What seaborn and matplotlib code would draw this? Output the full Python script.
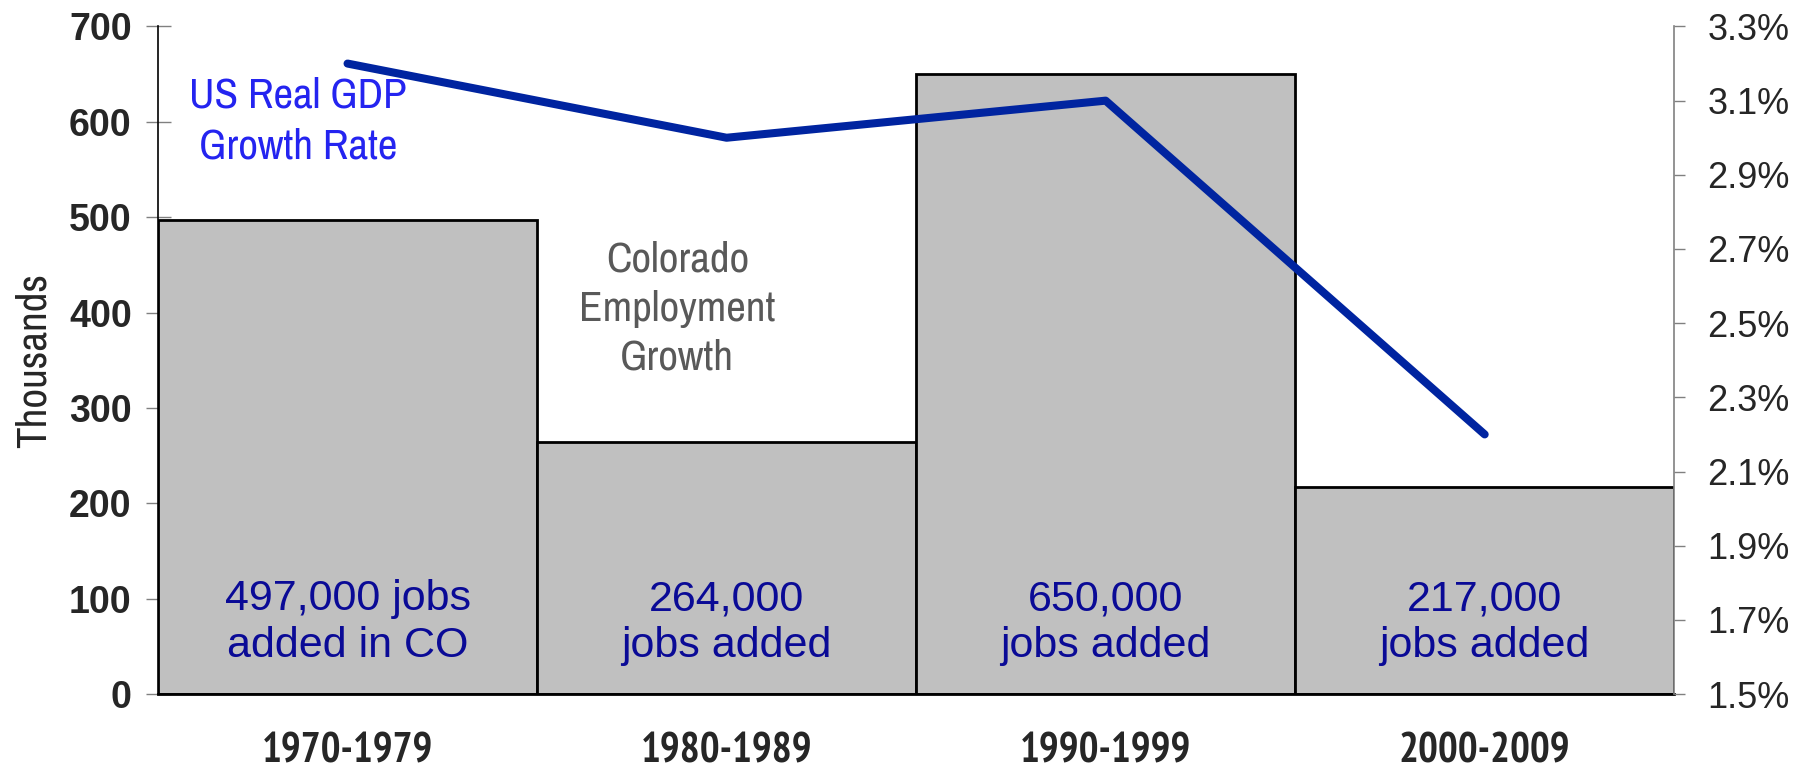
import matplotlib
matplotlib.use("Agg")
import matplotlib.pyplot as plt
import seaborn as sns
import pandas as pd
from matplotlib.ticker import FuncFormatter

periods = ["1970-1979", "1980-1989", "1990-1999", "2000-2009"]
jobs_thousands = [497, 264, 650, 217]
gdp_growth = [3.2, 3.0, 3.1, 2.2]
bar_labels = ["497,000 jobs\nadded in CO", "264,000\njobs added",
              "650,000\njobs added", "217,000\njobs added"]
left_ticks = [0, 100, 200, 300, 400, 500, 600, 700]
right_ticks = [1.5, 1.7, 1.9, 2.1, 2.3, 2.5, 2.7, 2.9, 3.1, 3.3]

sns.set_style("white")
plt.rcParams["font.family"] = ["Liberation Sans", "DejaVu Sans"]
NARROW = ["Archivo Narrow", "Liberation Sans", "DejaVu Sans"]
XFONT = ["PT Sans Narrow", "Roboto Condensed", "Liberation Sans", "DejaVu Sans"]

df = pd.DataFrame({"period": periods, "jobs": jobs_thousands, "gdp": gdp_growth})

fig = plt.figure(figsize=(18.08, 7.72), dpi=100)
ax = fig.add_axes([0.0874, 0.101, 0.926 - 0.0874, 0.9657 - 0.101])

sns.barplot(data=df, x="period", y="jobs", color="#C0C0C0", saturation=1,
            width=1.0, edgecolor="black", linewidth=2, ax=ax)
ax.set_xlim(-0.5, 3.5)
ax.set_ylim(0, 700)
ax.set_yticks(left_ticks)
ax.set_yticklabels([str(t) for t in left_ticks], fontsize=27, fontweight="bold")
ax.tick_params(axis="y", direction="inout", length=18, width=1, color="#808080", pad=10, left=True)
ax.tick_params(axis="x", length=0, pad=28)
for lab in ax.get_xticklabels():
    lab.set_fontfamily(XFONT)
    lab.set_fontsize(30)
    lab.set_fontweight("bold")
ax.set_xlabel("")
ax.set_ylabel("Thousands", fontsize=31, family=NARROW, labelpad=12)
for s in ["top", "right"]:
    ax.spines[s].set_visible(False)
ax.spines["left"].set_color("black")
ax.spines["left"].set_linewidth(1.2)
ax.spines["bottom"].set_color("black")
ax.spines["bottom"].set_linewidth(2)

for i, txt in enumerate(bar_labels):
    ax.text(i, 75, txt, ha="center", va="center", fontsize=31, color="#0A0A96",
            linespacing=1.22)

ax.text(-0.13, 601, "US Real GDP\nGrowth Rate", ha="center", va="center",
        fontsize=31, color="#2424F0", family=NARROW, linespacing=1.4)
ax.text(0.87, 404, "Colorado\nEmployment\nGrowth", ha="center", va="center",
        fontsize=31, color="#595959", family=NARROW, linespacing=1.35)

ax2 = ax.twinx()
ax2.set_position(ax.get_position())
sns.lineplot(data=df, x="period", y="gdp", color="#0024A0", linewidth=5.8,
             ax=ax2, sort=False)
ax2.set_ylim(1.5, 3.3)
ax2.set_yticks(right_ticks)
ax2.yaxis.set_major_formatter(FuncFormatter(lambda v, p: f"{v:.1f}%"))
ax2.tick_params(axis="y", direction="out", length=8, width=1, color="#808080",
                labelsize=26, pad=16, right=True)
ax2.set_ylabel("")
ax2.set_xlabel("")
for s in ["top", "left", "bottom"]:
    ax2.spines[s].set_visible(False)
ax2.spines["right"].set_color("#808080")
ax2.spines["right"].set_linewidth(1.2)
ax2.set_xlim(-0.5, 3.5)

fig.savefig("out.png", dpi=100)
